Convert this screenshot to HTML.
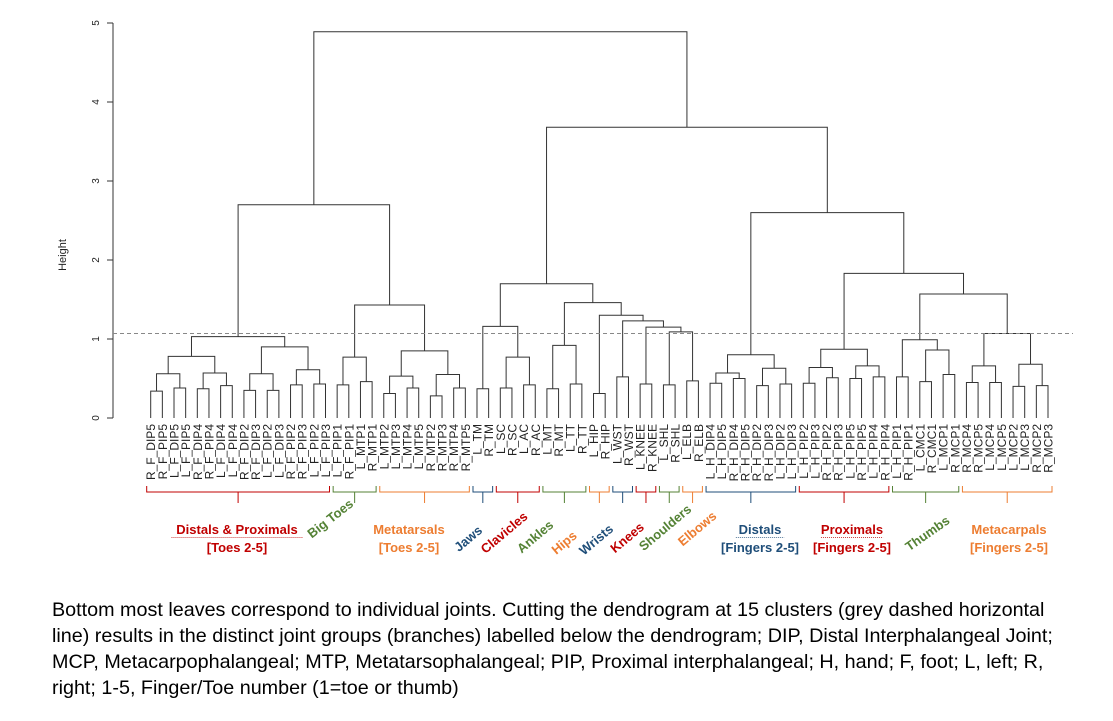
<!DOCTYPE html>
<html><head><meta charset="utf-8"><style>
body{margin:0;background:#fff;width:1113px;height:721px;overflow:hidden;font-family:"Liberation Sans",Arial,sans-serif}
.cap{position:absolute;left:52px;font-size:19.75px;color:#000;white-space:nowrap}
</style></head><body>
<svg id="chart" width="1113" height="600" style="position:absolute;left:0;top:0" font-family="Liberation Sans, Arial, sans-serif"></svg>
<div class="cap" style="top:599px">Bottom most leaves correspond to individual joints. Cutting the dendrogram at 15 clusters (grey dashed horizontal</div>
<div class="cap" style="top:625px">line) results in the distinct joint groups (branches) labelled below the dendrogram; DIP, Distal Interphalangeal Joint;</div>
<div class="cap" style="top:651px">MCP, Metacarpophalangeal; MTP, Metatarsophalangeal; PIP, Proximal interphalangeal; H, hand; F, foot; L, left; R,</div>
<div class="cap" style="top:677px">right; 1-5, Finger/Toe number (1=toe or thumb)</div>
<script>
const leafLabels=["R_F_DIP5","R_F_PIP5","L_F_DIP5","L_F_PIP5","R_F_DIP4","R_F_PIP4","L_F_DIP4","L_F_PIP4","R_F_DIP2","R_F_DIP3","L_F_DIP2","L_F_DIP3","R_F_PIP2","R_F_PIP3","L_F_PIP2","L_F_PIP3","L_F_PIP1","R_F_PIP1","L_MTP1","R_MTP1","L_MTP2","L_MTP3","L_MTP4","L_MTP5","R_MTP2","R_MTP3","R_MTP4","R_MTP5","L_TM","R_TM","L_SC","R_SC","L_AC","R_AC","L_MT","R_MT","L_TT","R_TT","L_HIP","R_HIP","L_WST","R_WST","L_KNEE","R_KNEE","L_SHL","R_SHL","L_ELB","R_ELB","L_H_DIP4","L_H_DIP5","R_H_DIP4","R_H_DIP5","R_H_DIP2","R_H_DIP3","L_H_DIP2","L_H_DIP3","L_H_PIP2","L_H_PIP3","R_H_PIP2","R_H_PIP3","L_H_PIP5","R_H_PIP5","L_H_PIP4","R_H_PIP4","L_H_PIP1","R_H_PIP1","L_CMC1","R_CMC1","L_MCP1","R_MCP1","R_MCP4","R_MCP5","L_MCP4","L_MCP5","L_MCP2","L_MCP3","R_MCP2","R_MCP3"];
const toesTree=[1.03,[0.78,[0.56,[0.34,0,1],[0.38,2,3]],[0.57,[0.37,4,5],[0.41,6,7]]],[0.90,[0.56,[0.35,8,9],[0.35,10,11]],[0.61,[0.42,12,13],[0.43,14,15]]]];
const bigToeTree=[0.77,[0.42,16,17],[0.46,18,19]];
const metaTree=[0.85,[0.53,[0.31,20,21],[0.38,22,23]],[0.55,[0.28,24,25],[0.38,26,27]]];
const midTree=[1.70,[1.16,[0.37,28,29],[0.77,[0.38,30,31],[0.42,32,33]]],[1.46,[0.92,[0.37,34,35],[0.43,36,37]],[1.30,[0.31,38,39],[1.23,[0.52,40,41],[1.15,[0.43,42,43],[1.09,[0.42,44,45],[0.47,46,47]]]]]]];
const handTree=[2.60,[0.80,[0.57,[0.44,48,49],[0.50,50,51]],[0.63,[0.41,52,53],[0.43,54,55]]],[1.83,[0.87,[0.64,[0.44,56,57],[0.51,58,59]],[0.66,[0.50,60,61],[0.52,62,63]]],[1.57,[0.99,[0.52,64,65],[0.86,[0.46,66,67],[0.55,68,69]]],[1.07,[0.66,[0.45,70,71],[0.45,72,73]],[0.68,[0.40,74,75],[0.41,76,77]]]]]];
const tree=[4.89,[2.70,toesTree,[1.43,bigToeTree,metaTree]],[3.68,midTree,handTree]];
const cutHeight=1.07;
const yTicks=[0,1,2,3,4,5];
const groups=[
 {s:0,e:15,c:"#c00000",t:["Distals & Proximals","[Toes 2-5]"],rot:0,ul:true,lx:237},
 {s:16,e:19,c:"#548235",t:["Big Toes"],rot:-38,lx:333,ly:522},
 {s:20,e:27,c:"#ed7d31",t:["Metatarsals","[Toes 2-5]"],rot:0,lx:409},
 {s:28,e:29,c:"#1f4e79",t:["Jaws"],rot:-40,lx:471,ly:542},
 {s:30,e:33,c:"#c00000",t:["Clavicles"],rot:-40,lx:507,ly:536},
 {s:34,e:37,c:"#548235",t:["Ankles"],rot:-40,lx:538,ly:540},
 {s:38,e:39,c:"#ed7d31",t:["Hips"],rot:-40,lx:567,ly:546},
 {s:40,e:41,c:"#1f4e79",t:["Wrists"],rot:-40,lx:599,ly:543},
 {s:42,e:43,c:"#c00000",t:["Knees"],rot:-40,lx:630,ly:541},
 {s:44,e:45,c:"#548235",t:["Shoulders"],rot:-40,lx:668,ly:531},
 {s:46,e:47,c:"#ed7d31",t:["Elbows"],rot:-40,lx:700,ly:532},
 {s:48,e:55,c:"#1f4e79",t:["Distals","[Fingers 2-5]"],rot:0,ul:true,lx:760},
 {s:56,e:63,c:"#c00000",t:["Proximals","[Fingers 2-5]"],rot:0,ul:true,lx:852},
 {s:64,e:69,c:"#548235",t:["Thumbs"],rot:-35,lx:930,ly:537},
 {s:70,e:77,c:"#ed7d31",t:["Metacarpals","[Fingers 2-5]"],rot:0,lx:1009}
];
const svg=document.getElementById('chart');const NS="http://www.w3.org/2000/svg";
const x0=150.7,x1=1048,y0=418,yTop=23;
const xs=i=>x0+i*(x1-x0)/(leafLabels.length-1);
const ys=h=>y0-h*(y0-yTop)/5;
function mk(tag,attrs,name){const e=document.createElementNS(NS,tag);for(const k in attrs)e.setAttribute(k,attrs[k]);
 
 
 svg.appendChild(e);return e;}
mk('line',{x1:113,x2:113,y1:ys(0),y2:ys(5),stroke:'#333','stroke-width':1},'y-axis-line');
yTicks.forEach(v=>{mk('line',{x1:107,x2:113,y1:ys(v),y2:ys(v),stroke:'#333'},'y-tick');
 const t=mk('text',{x:0,y:0,'font-size':10,'text-anchor':'middle',transform:`translate(99,${ys(v)}) rotate(-90)`,fill:'#222'},'y-tick-label');t.textContent=v;});
const yt=mk('text',{'font-size':11,'text-anchor':'middle',transform:'translate(66,255) rotate(-90)',fill:'#222'},'y-axis-title');yt.textContent='Height';
function draw(n){
 if(typeof n==='number'){return {x:xs(n),h:0};}
 const a=draw(n[1]),b=draw(n[2]);const y=ys(n[0]);
 mk('path',{d:`M${a.x},${ys(a.h)}V${y}H${b.x}V${ys(b.h)}`,fill:'none',stroke:'#333','stroke-width':1},'dendrogram-branch');
 return {x:(a.x+b.x)/2,h:n[0]};
}
draw(tree);
mk('line',{x1:113,x2:1073,y1:ys(cutHeight),y2:ys(cutHeight),stroke:'#888','stroke-dasharray':'4,3','stroke-width':1},'cut-line');
leafLabels.forEach((l,i)=>{const t=mk('text',{'font-size':12,'text-anchor':'end',transform:`translate(${xs(i)+4.5},424) rotate(-90)`,fill:'#222'},'leaf-label');t.textContent=l;});
groups.forEach(g=>{
 const a=xs(g.s)-4,b=xs(g.e)+4,m=(a+b)/2;
 mk('path',{d:`M${a},486V492H${b}V486M${m},492V503`,fill:'none',stroke:g.c,'stroke-width':1},'group-brace');
 if(g.rot===0){
  g.t.forEach((s,k)=>{const t=mk('text',{x:g.lx,y:534+k*18,'font-size':13,'font-weight':'bold','text-anchor':'middle',fill:g.c},'group-label');t.textContent=s;
   if(k===0&&g.ul){const w=s.length*6.9;mk('line',{x1:g.lx-w/2,x2:g.lx+w/2,y1:537.5,y2:537.5,stroke:g.c,'stroke-width':0.8,'stroke-dasharray':'1,1'},'label-underline');}});
 }else{
  const t=mk('text',{'font-size':13,'font-weight':'bold','text-anchor':'middle',fill:g.c,transform:`translate(${g.lx},${g.ly}) rotate(${g.rot})`},'group-label');t.textContent=g.t[0];
 }
});
</script>
</body></html>
